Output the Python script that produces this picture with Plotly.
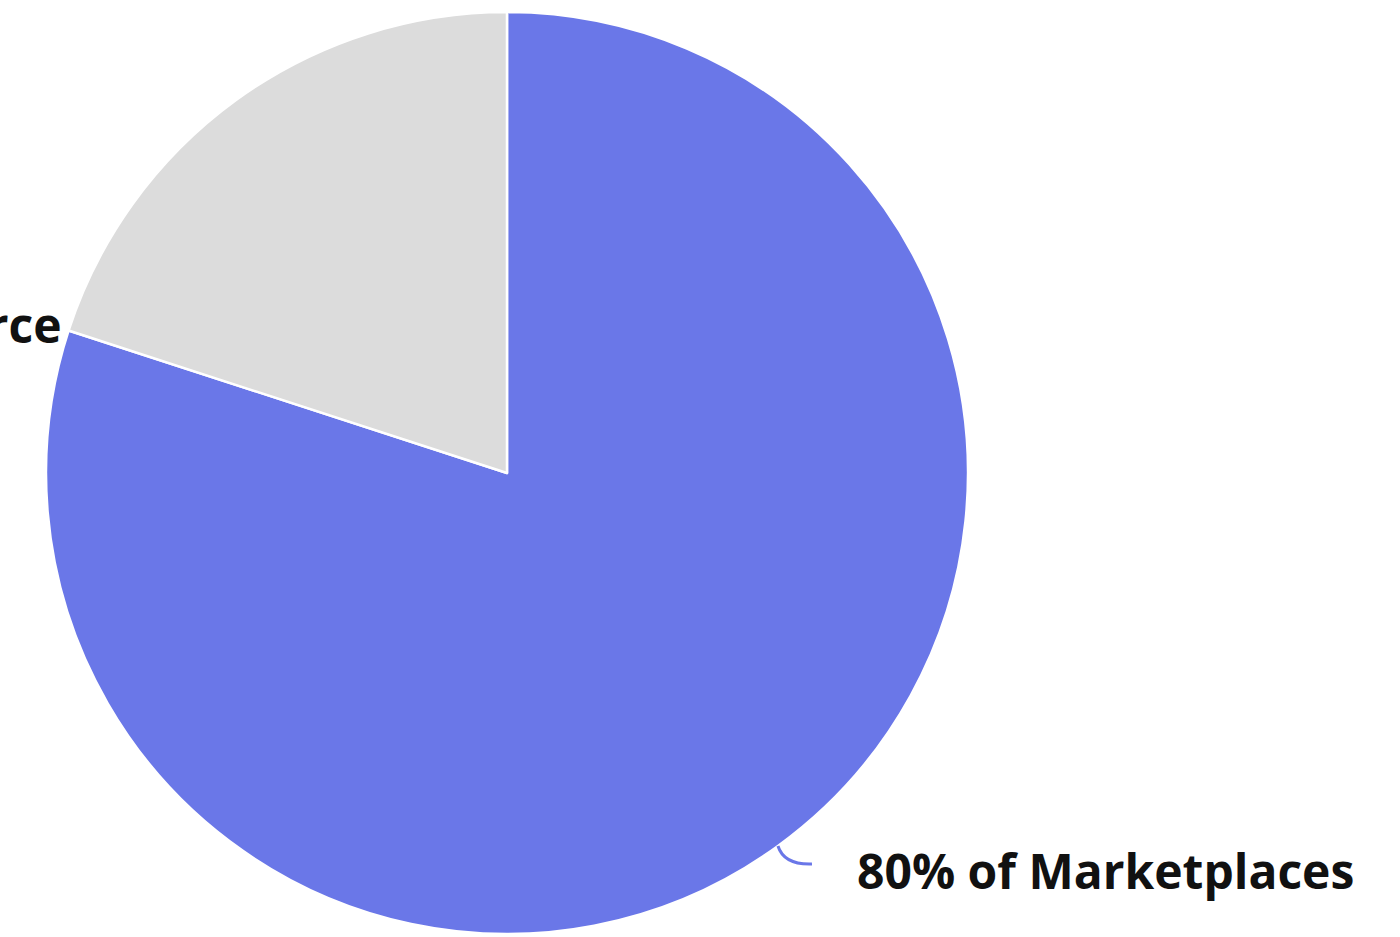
import math
import plotly.graph_objects as go

# Share of sellers by channel
labels = ["Marketplaces", "E-commerce"]
values = [80, 20]
colors = ["#6A77E8", "#DCDCDC"]

W, H = 1400, 937
CX, CY, R = 507, 473, 461  # pie centre and radius in pixels

fig = go.Figure(
    go.Pie(
        labels=labels,
        values=values,
        sort=False,
        direction="clockwise",
        rotation=0,
        marker=dict(colors=colors, line=dict(color="white", width=2.5)),
        textinfo="none",
        hoverinfo="label+percent",
        showlegend=False,
        domain=dict(
            x=[(CX - R) / W, (CX + R) / W],
            y=[1 - (CY + R) / H, 1 - (CY - R) / H],
        ),
    )
)


def px(x, y):
    return x / W, 1 - y / H


total = sum(values)
# mid angle of the first slice, measured clockwise from 12 o'clock
mid = 2 * math.pi * (values[0] / 2) / total
ex, ey = CX + R * math.sin(mid), CY - R * math.cos(mid)

# curved leader line from the slice edge to its label
p0 = px(ex, ey)
pc = px(ex + 6, ey + 19)
p1 = px(ex + 34, ey + 18)
fig.add_shape(
    type="path",
    xref="paper",
    yref="paper",
    path=f"M {p0[0]},{p0[1]} Q {pc[0]},{pc[1]} {p1[0]},{p1[1]}",
    line=dict(color=colors[0], width=3),
)

font = dict(family="Open Sans", size=48, color="#111111")

lx, ly = px(ex + 77, ey + 25)
fig.add_annotation(
    x=lx, y=ly, xref="paper", yref="paper",
    text=f"<b>{values[0]}% of {labels[0]}</b>",
    showarrow=False, xanchor="left", yanchor="middle", font=font,
)

# second label, anchored where the two slices meet on the left
b = 2 * math.pi * values[0] / total
bx, by = CX + R * math.sin(b), CY - R * math.cos(b)
gx, gy = px(bx - 5, by - 6)
fig.add_annotation(
    x=gx, y=gy, xref="paper", yref="paper",
    text=f"<b>{values[1]}% of {labels[1]}</b>",
    showarrow=False, xanchor="right", yanchor="middle", font=font,
)

fig.update_layout(
    width=W,
    height=H,
    margin=dict(l=0, r=0, t=0, b=0),
    paper_bgcolor="white",
    plot_bgcolor="white",
)

fig.write_html("out.html")
